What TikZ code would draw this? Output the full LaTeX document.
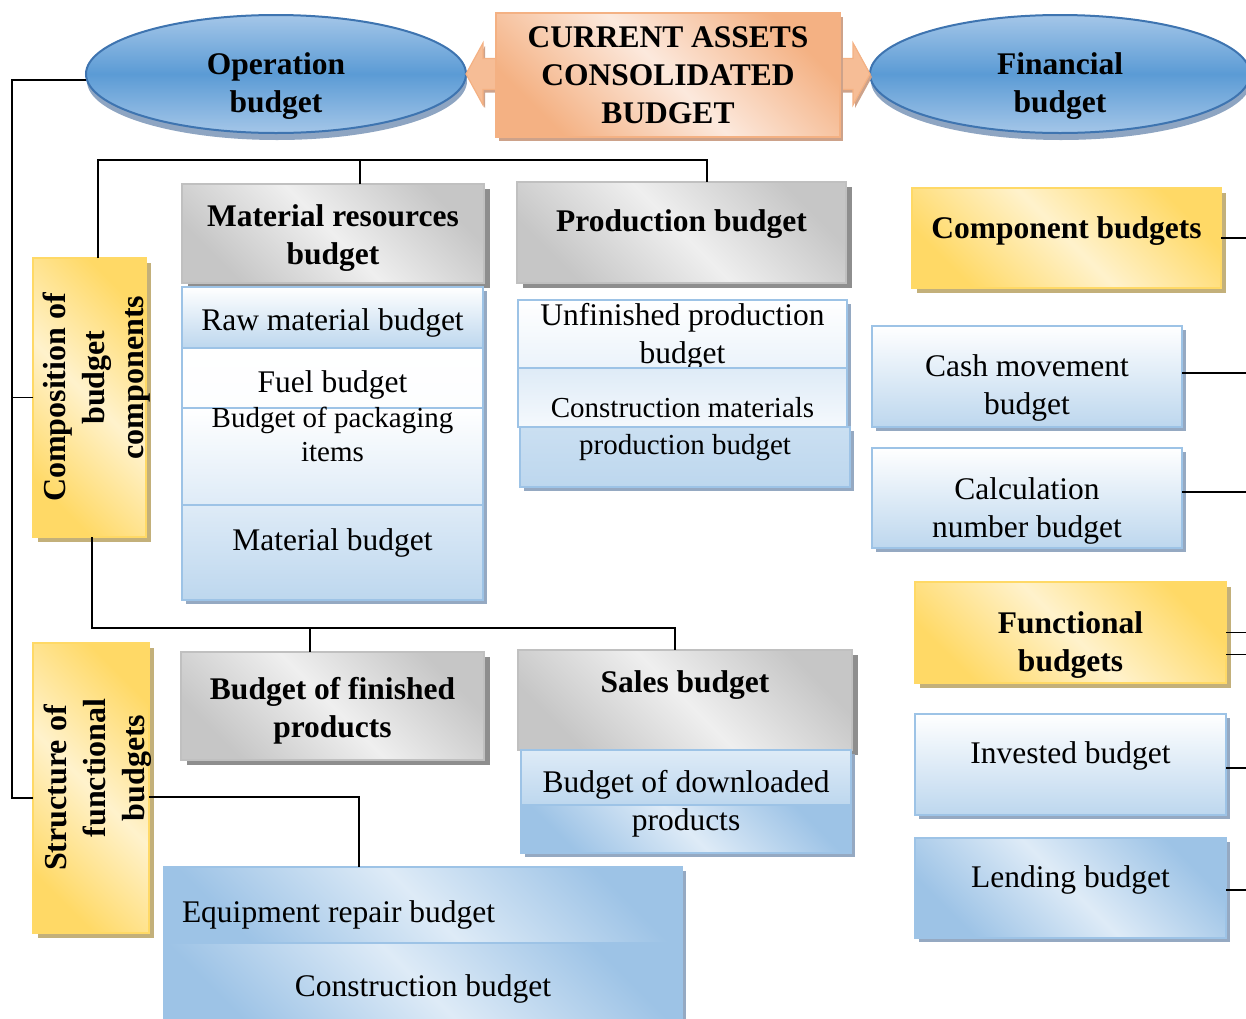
\documentclass[tikz,border=0pt]{standalone}
\usepackage{fontspec}
\usepackage{graphicx}
\setmainfont{Liberation Serif}
\usetikzlibrary{positioning, shadows, shapes.geometric}

% palette
\definecolor{ovalmid}{HTML}{5B9BD5}
\definecolor{ovallight}{HTML}{A4C6E8}
\definecolor{ovaledge}{HTML}{3E74B0}
\definecolor{ovalshade}{HTML}{8EA5C2}
\definecolor{peachdark}{HTML}{F4B183}
\definecolor{peachmid}{HTML}{F8CBAD}
\definecolor{peachlight}{HTML}{FCE9DD}
\definecolor{peachshade}{HTML}{CDA28A}
\definecolor{greydark}{HTML}{C6C6C6}
\definecolor{greylight}{HTML}{EFEFEF}
\definecolor{greyline}{HTML}{C0C0C0}
\definecolor{greyshade}{HTML}{8E8E8E}
\definecolor{golddark}{HTML}{FFD966}
\definecolor{goldlight}{HTML}{FFF2CC}
\definecolor{goldshade}{HTML}{C3B07A}
\definecolor{bluedeep}{HTML}{9DC3E6}
\definecolor{bluefill}{HTML}{BDD7EE}
\definecolor{bluepale}{HTML}{DEEBF7}
\definecolor{blueline}{HTML}{9DC3E6}
\definecolor{blueshade}{HTML}{95A9C2}

% centred lines of a box
\newcommand{\cellstack}[1]{\begin{tabular}{@{}c@{}}#1\end{tabular}}

\begin{document}
\begin{tikzpicture}[
    x=1pt, y=-1pt,
    every node/.style = {inner sep=0pt, outer sep=0pt},
    txt/.style        = {font=\fontsize{31.5}{38}\selectfont},
    sml/.style        = {font=\fontsize{29}{34}\selectfont},
    bld/.style        = {font=\fontsize{31.5}{38}\selectfont\bfseries},
    rot/.style        = {font=\fontsize{32}{39}\selectfont\bfseries},
    link/.style       = {line width=1.4pt},
    diag/.style 2 args = {top color=#1, bottom color=#1, middle color=#2, shading angle=-45},
    arrowbody/.style  = {fill=peachdark!55!peachmid, draw=peachdark, line width=1.2pt,
                         drop shadow={shadow xshift=2pt, shadow yshift=-3pt, fill=peachshade, opacity=1}},
    oval/.style       = {ellipse, bld, minimum width=380pt, minimum height=118pt,
                         draw=ovaledge, line width=2pt,
                         top color=ovallight, bottom color=ovallight, middle color=ovalmid,
                         drop shadow={shadow xshift=1pt, shadow yshift=-7pt, fill=ovalshade, opacity=1}},
    peachbox/.style   = {bld, draw=peachdark, line width=1.5pt, diag={peachdark}{peachlight},
                         drop shadow={shadow xshift=3pt, shadow yshift=-4pt, fill=peachshade, opacity=1}},
    greybox/.style    = {bld, draw=greyline, line width=1.5pt, diag={greydark}{greylight},
                         drop shadow={shadow xshift=6pt, shadow yshift=-5pt, fill=greyshade, opacity=1}},
    goldbox/.style    = {draw=golddark, line width=1.5pt, diag={golddark}{goldlight},
                         drop shadow={shadow xshift=5pt, shadow yshift=-5pt, fill=goldshade, opacity=1}},
    cell/.style       = {draw=blueline, line width=1.5pt, top color=white, bottom color=bluefill,
                         drop shadow={shadow xshift=4pt, shadow yshift=-4pt, fill=blueshade, opacity=1}},
    celldiag/.style   = {cell, diag={bluedeep}{bluepale}}
    ]
  \useasboundingbox (0,0) rectangle (1246,1018);
  \clip (0,0) rectangle (1246,1018);

  % title row --------------------------------------------------
  \node[oval, text height=36pt, text depth=0pt] (opb) at (276,74)  {\cellstack{Operation\\budget}};
  \node[oval, text height=36pt, text depth=0pt] (fnb) at (1060,74) {\cellstack{Financial\\budget}};
  \filldraw[arrowbody] (opb.east) -- ++(17,-31) -- ++(0,15.5)
      -- ([xshift=-17pt,yshift=15.5pt]fnb.west) -- ++(0,-15.5) -- (fnb.west)
      -- ++(-17,31) -- ++(0,-15.5) -- ([xshift=17pt,yshift=-15.5pt]opb.east)
      -- ++(0,15.5) -- cycle;
  \node[peachbox, minimum width=344pt, minimum height=124pt, text height=19pt, text depth=0pt] (cab) at (668,75)
      {\cellstack{CURRENT ASSETS\\CONSOLIDATED\\BUDGET}};

  % operation side: components ---------------------------------
  \node[greybox, minimum width=302pt, minimum height=99pt, text height=21pt, text depth=0pt] (mrb) at (333,233.5)
      {\cellstack{Material resources\\budget}};
  \node[greybox, minimum width=329pt, minimum height=101pt, text height=22pt, text depth=25pt]
      (pdb) at (681.5,232.5) {Production budget};
  \node[goldbox, rot, minimum width=113pt, minimum height=279pt] (cob) at (89.5,397.5)
      {\hspace*{14pt}\makebox[0pt]{\rotatebox{90}{\cellstack{Composition of\\\hspace*{40pt}budget\\\hspace*{40pt}components}}}};

  \node[cell, txt, minimum width=301pt, minimum height=61pt, text height=32pt, text depth=7pt]
      (rmb) at (332.5,317.5) {Raw material budget};
  \node[cell, txt, bottom color=white!92!bluepale, minimum width=301pt, minimum height=60pt,
        text height=35pt, text depth=7pt] (fub) at (332.5,378) {Fuel budget};
  \node[cell, bottom color=bluepale, minimum width=301pt, minimum height=97pt] (pkb) at (332.5,456.5) {};
  \node[sml, align=center, below=-1pt of pkb.north] (pkt) {Budget of packaging\\items};
  \node[cell, txt, top color=bluepale, bottom color=bluefill, minimum width=301pt, minimum height=95pt,
        text height=22pt, text depth=27pt] (mtb) at (332.5,552.5) {Material budget};

  \node[cell, txt, bottom color=bluepale!60, minimum width=329pt, minimum height=68pt, text height=19pt, text depth=0pt]
      (upb) at (682.5,334) {\cellstack{Unfinished production\\budget}};
  \node[cell, sml, top color=bluepale, bottom color=white!70!bluepale, minimum width=329pt, minimum height=59pt,
        text height=46pt, text depth=7pt] (cmt) at (682.5,397.5) {Construction materials};
  \node[cell, sml, top color=bluefill!80, bottom color=bluefill, minimum width=330pt, minimum height=60pt,
        text height=22pt, text depth=28pt] (cmp) at (685,457) {production budget};

  % financial side ---------------------------------------------
  \node[goldbox, bld, minimum width=309pt, minimum height=100pt, text height=22pt, text depth=22pt]
      (cpb) at (1066.5,238) {Component budgets};
  \node[cell, txt, minimum width=310pt, minimum height=101pt, text height=36pt, text depth=0pt]
      (cmv) at (1027,376.5) {\cellstack{Cash movement\\budget}};
  \node[cell, txt, minimum width=310pt, minimum height=100pt, text height=38pt, text depth=0pt]
      (clb) at (1027,498) {\cellstack{Calculation\\number budget}};
  \node[goldbox, bld, minimum width=311pt, minimum height=101pt, text height=38pt, text depth=0pt]
      (fcb) at (1070.5,632.5) {\cellstack{Functional\\budgets}};
  \node[cell, txt, minimum width=311pt, minimum height=101pt, text height=22pt, text depth=25pt]
      (ivb) at (1070.5,764.5) {Invested budget};
  \node[celldiag, txt, minimum width=311pt, minimum height=100pt, text height=22pt, text depth=24pt]
      (ldb) at (1070.5,888) {Lending budget};

  % operation side: functional ---------------------------------
  \node[greybox, minimum width=303pt, minimum height=108pt, text height=22pt, text depth=0pt]
      (bfp) at (332.5,706) {\cellstack{Budget of finished\\products}};
  \node[greybox, minimum width=334pt, minimum height=100pt, text height=22pt, text depth=38pt]
      (slb) at (685,700) {Sales budget};
  \node[cell, txt, top color=bluepale, bottom color=bluefill, minimum width=330pt, minimum height=55pt,
        text height=36pt, text depth=7pt] (dlt) at (686,777.5) {Budget of downloaded};
  \node[celldiag, txt, minimum width=330pt, minimum height=48pt, text height=22pt, text depth=20pt]
      (dlp) at (686,829) {products};
  \node[goldbox, rot, minimum width=116pt, minimum height=290pt] (stb) at (91,788)
      {\hspace*{14pt}\makebox[0pt]{\rotatebox{90}{\cellstack{Structure of\\\hspace*{40pt}functional\\\hspace*{40pt}budgets}}}};
  \node[celldiag, txt, minimum width=518pt, minimum height=76pt, inner xsep=18pt, text height=41pt, text depth=7pt]
      (erb) at (423,905) {\makebox[482pt][l]{Equipment repair budget}};
  \node[celldiag, txt, minimum width=518pt, minimum height=87pt, text height=27.5pt, text depth=7pt]
      (csb) at (423,986.5) {Construction budget};

  % connectors -------------------------------------------------
  \coordinate (trunk)  at (12,80);
  \coordinate (topbar) at (0,160);
  \coordinate (lowbar) at (0,628);
  \coordinate (rim)    at (1252,0);
  \draw[link] (opb.west |- trunk) -- (trunk) |- ([yshift=-10pt]stb.west);
  \draw[link] (cob.west) -- (cob.west -| trunk);
  \draw[link] ([xshift=8.5pt]cob.north) |- ([xshift=25.5pt]pdb.north |- topbar) -- ([xshift=25.5pt]pdb.north);
  \draw[link] ([xshift=27pt]mrb.north) -- ([xshift=27pt]mrb.north |- topbar);
  \draw[link] ([xshift=2.5pt]cob.south) |- ([xshift=-10pt]slb.north |- lowbar) -- ([xshift=-10pt]slb.north);
  \draw[link] ([xshift=-22.5pt]bfp.north) -- ([xshift=-22.5pt]bfp.north |- lowbar);
  \draw[link] ([yshift=-9pt]stb.east) -| ([xshift=-64pt]erb.north);
  \draw[link] (cpb.east) -- (cpb.east -| rim);
  \draw[link] ([yshift=3.5pt]cmv.east) -- ([yshift=3.5pt]cmv.east -| rim);
  \draw[link] ([yshift=6pt]clb.east) -- ([yshift=6pt]clb.east -| rim);
  \draw[link] (fcb.east) -- (fcb.east -| rim);
  \draw[link] ([yshift=-22pt]fcb.east) -- ([yshift=-22pt]fcb.east -| rim);
  \draw[link] ([yshift=-3.5pt]ivb.east) -- ([yshift=-3.5pt]ivb.east -| rim);
  \draw[link] ([yshift=-2pt]ldb.east) -- ([yshift=-2pt]ldb.east -| rim);
\end{tikzpicture}
\end{document}
